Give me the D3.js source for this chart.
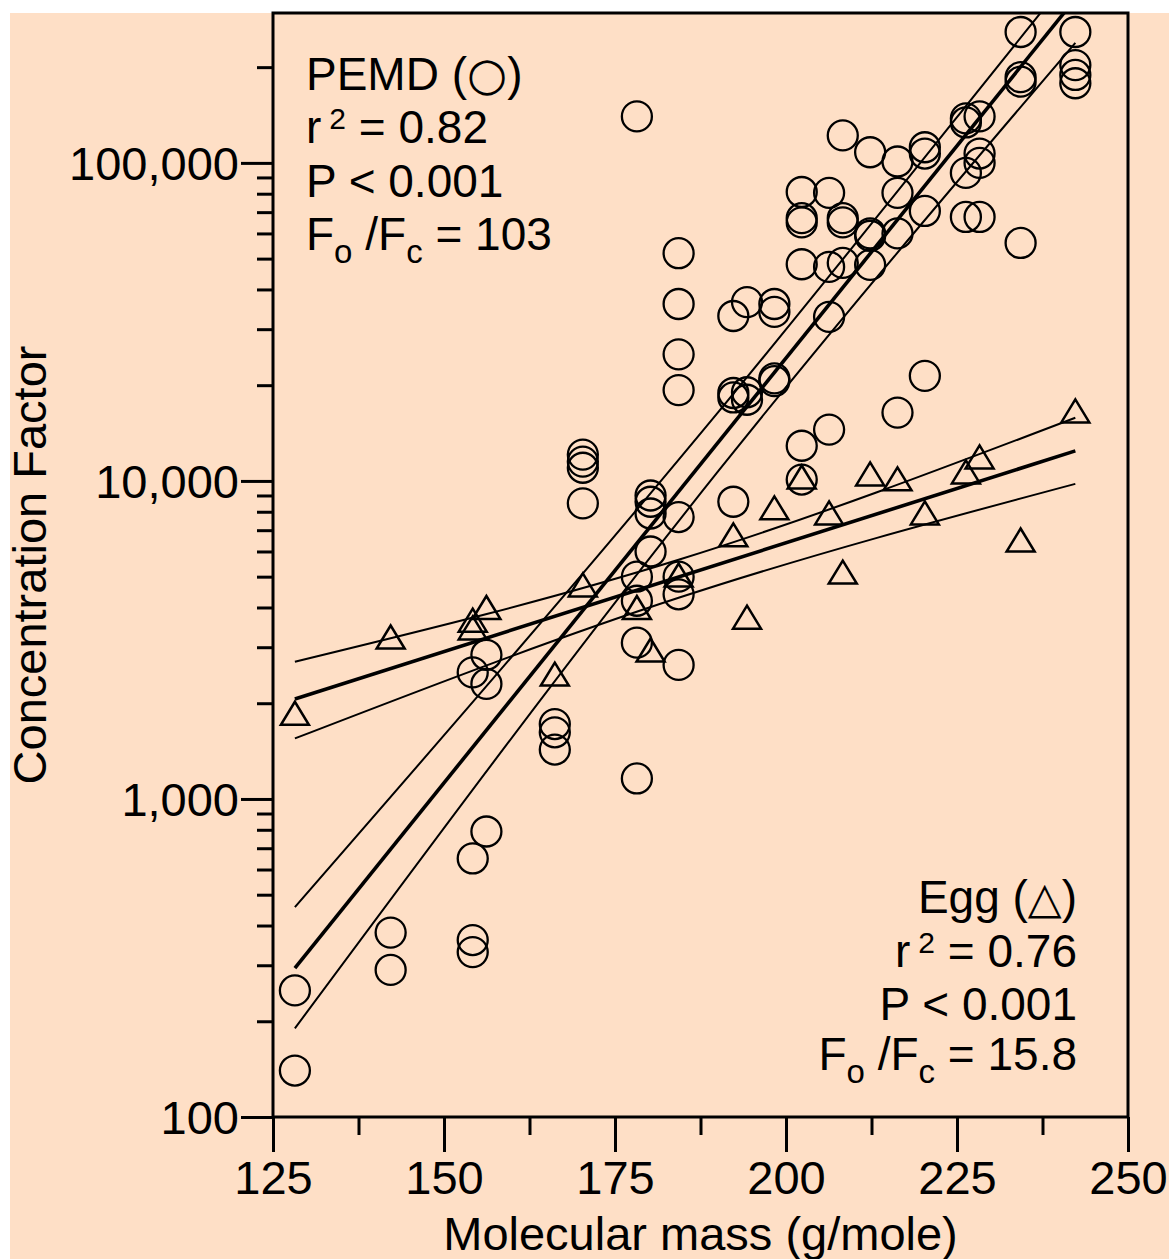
<!DOCTYPE html>
<html><head><meta charset="utf-8">
<script src="https://cdn.jsdelivr.net/npm/d3@7"></script>
<style>body{margin:0;background:#fff}</style>
</head><body>
<svg id="chart" width="1169" height="1259"></svg>
<script>
// ---------- data ----------
const pemdMass = [128.2,128.2, 142.2,142.2, 154.2,154.2,154.2,154.2, 156.2,156.2,156.2,
  166.2,166.2,166.2, 170.3,170.3,170.3,170.3, 178.2,178.2,178.2,178.2,178.2,
  180.2,180.2,180.2,180.2, 184.3,184.3,184.3,184.3,184.3,184.3,184.3,184.3,
  192.3,192.3,192.3,192.3, 194.3,194.3,194.3, 198.3,198.3,198.3,198.3,
  202.3,202.3,202.3,202.3,202.3,202.3, 206.3,206.3,206.3,206.3,
  208.3,208.3,208.3,208.3, 212.3,212.3,212.3,212.3, 216.3,216.3,216.3,216.3,
  220.3,220.3,220.3,220.3, 226.3,226.3,226.3,226.3, 228.3,228.3,228.3,228.3,
  234.3,234.3,234.3,234.3, 242.3,242.3,242.3,242.3];
const pemdCF = [250,140, 380,290, 2500,650,360,330, 2840,2300,790,
  1720,1620,1430, 12100,11500,11000,8500, 140000,5000,4200,3100,1160,
  9000,8600,7900,6000, 52000,36000,25000,19300,7700,5000,4400,2640,
  33000,18900,18300,8600, 36500,19000,18000, 36000,34000,21000,20600,
  81000,67000,65000,48000,12900,10100, 80500,47100,32800,14500,
  122000,67000,65000,48500, 108000,60000,59000,47800, 101000,80500,60000,16400,
  112000,107000,70600,21400, 138000,134000,93000,67600, 140000,107000,100000,67600,
  258000,186000,180000,56000, 258000,203000,189000,178000];

const eggMass = [128.2,142.2,154.2,154.2,156.2,166.2,170.3,178.2,180.2,184.3,192.3,194.3,
  198.3,202.3,206.3,208.3,212.3,216.3,220.3,226.3,228.3,234.3,242.3];
const eggCF = [1860,3230,3650,3450,4000,2470,4710,4000,2940,5060,6770,3730,
  8230,10290,7930,5170,10520,10150,7930,10670,11900,6520,16600];

// regression lines and 95% bands: [mass, concentration factor]
const pemdFit   = [[128.2, 294], [242.3, 328000]];
const pemdUpper = [[128.2, 457], [190, 16360], [237.1, 294000], [242.3, 405000]];
const pemdLower = [[128.2, 190], [190, 10670], [242.3, 238500]];
const eggFit    = [[128.2, 2063], [242.3, 12430]];
const eggUpper  = [[128.2, 2700], [184.3, 5650], [242.3, 15800]];
const eggLower  = [[128.2, 1550], [184.3, 4290], [242.3, 9790]];

const xTicks = [125, 150, 175, 200, 225, 250];
const xMinor = [137.5, 162.5, 187.5, 212.5, 237.5];
const yTicks = [100, 1000, 10000, 100000];
const yTickLabels = ["100", "1,000", "10,000", "100,000"];

// ---------- drawing ----------
const svg = d3.select("#chart");
const L = 273, R = 1128, T = 13, B = 1117;
const FONT = "'Liberation Sans', Arial, Helvetica, sans-serif";

svg.append("rect").attr("x", 0).attr("y", 0).attr("width", 1169).attr("height", 1259).attr("fill", "#ffffff");
svg.append("rect").attr("x", 10).attr("y", 13).attr("width", 1159).attr("height", 1246).attr("fill", "#FEDFC6");

const x = d3.scaleLinear().domain([125, 250]).range([L, R]);
const y = d3.scaleLog().domain([100, 296000]).range([B, T]);

svg.append("defs").append("clipPath").attr("id", "clip")
  .append("rect").attr("x", L).attr("y", T).attr("width", R - L).attr("height", B - T);

// y minor ticks
const yMinor = [];
for (let e = 2; e <= 5; e++) for (let m = 2; m <= 9; m++) { const v = m * Math.pow(10, e); if (v <= 296000) yMinor.push(v); }

const yAxisMinor = d3.axisLeft(y).tickValues(yMinor).tickSize(16).tickFormat("");
const yAxisMajor = d3.axisLeft(y).tickValues(yTicks).tickSize(32).tickPadding(2)
  .tickFormat((d, i) => yTickLabels[i]);
const xAxisMinor = d3.axisBottom(x).tickValues(xMinor).tickSize(18).tickFormat("");
const xAxisMajor = d3.axisBottom(x).tickValues(xTicks).tickSize(35).tickPadding(9);

function styleAxis(g) {
  g.select(".domain").remove();
  g.selectAll(".tick line").attr("stroke", "#000").attr("stroke-width", 3);
  g.selectAll(".tick text").attr("fill", "#000").style("font-family", FONT).style("font-size", "47px");
}
svg.append("g").attr("transform", `translate(${L},0)`).call(yAxisMinor).call(styleAxis);
svg.append("g").attr("transform", `translate(${L},0)`).call(yAxisMajor).call(styleAxis)
  .selectAll(".tick text").attr("dy", "0.36em");
svg.append("g").attr("transform", `translate(0,${B})`).call(xAxisMinor).call(styleAxis);
svg.append("g").attr("transform", `translate(0,${B})`).call(xAxisMajor).call(styleAxis);

// frame
svg.append("rect").attr("x", L).attr("y", T).attr("width", R - L).attr("height", B - T)
  .attr("fill", "none").attr("stroke", "#000").attr("stroke-width", 3);

// lines
const line = d3.line().x(d => x(d[0])).y(d => y(d[1])).curve(d3.curveMonotoneX);
const lg = svg.append("g").attr("clip-path", "url(#clip)");
[[pemdUpper, 2], [pemdLower, 2], [pemdFit, 3.6], [eggUpper, 2], [eggLower, 2], [eggFit, 3.6]].forEach(([d, w]) => {
  lg.append("path").datum(d).attr("d", line).attr("fill", "none").attr("stroke", "#000").attr("stroke-width", w);
});

// markers
const mg = svg.append("g").attr("clip-path", "url(#clip)");
mg.selectAll("circle.pemd").data(pemdMass.map((m, i) => [m, pemdCF[i]])).join("circle")
  .attr("class", "pemd").attr("cx", d => x(d[0])).attr("cy", d => y(d[1])).attr("r", 15)
  .attr("fill", "none").attr("stroke", "#000").attr("stroke-width", 2.3);
const tw = 28, th = 23;
mg.selectAll("path.egg").data(eggMass.map((m, i) => [m, eggCF[i]])).join("path")
  .attr("class", "egg")
  .attr("d", d => { const cx = x(d[0]), cy = y(d[1]);
    return `M${cx},${cy - th / 2}L${cx + tw / 2},${cy + th / 2}L${cx - tw / 2},${cy + th / 2}Z`; })
  .attr("fill", "none").attr("stroke", "#000").attr("stroke-width", 2.5).attr("stroke-linejoin", "miter");

// axis titles
svg.append("text").attr("x", (L + R) / 2).attr("y", 1250).attr("text-anchor", "middle")
  .style("font-family", FONT).style("font-size", "47px").text("Molecular mass (g/mole)");
svg.append("text").attr("transform", `translate(46,${(T + B) / 2}) rotate(-90)`).attr("text-anchor", "middle")
  .style("font-family", FONT).style("font-size", "47px").text("Concentration Factor");

// annotations
function statBlock(xPos, baselines, anchor, title, glyph, glyphSize, r2, p, f) {
  const g = svg.append("g").style("font-family", FONT).style("font-size", "46px").attr("text-anchor", anchor);
  const t1 = g.append("text").attr("x", xPos).attr("y", baselines[0]);
  t1.append("tspan").text(title + " (");
  t1.append("tspan").style("font-family", "'DejaVu Sans', sans-serif")
    .style("font-size", glyphSize + "px").text(glyph);
  t1.append("tspan").text(")");
  const t2 = g.append("text").attr("x", xPos).attr("y", baselines[1]);
  t2.append("tspan").text("r");
  t2.append("tspan").attr("dx", 8).attr("dy", -14).style("font-size", "30px").text("2");
  t2.append("tspan").attr("dy", 14).text(" = " + r2);
  g.append("text").attr("x", xPos).attr("y", baselines[2]).text("P < " + p);
  const t4 = g.append("text").attr("x", xPos).attr("y", baselines[3]);
  t4.append("tspan").text("F");
  t4.append("tspan").attr("dy", 13).style("font-size", "33px").text("o");
  t4.append("tspan").attr("dy", -13).text(" /F");
  t4.append("tspan").attr("dy", 13).style("font-size", "33px").text("c");
  t4.append("tspan").attr("dy", -13).text(" = " + f);
}
statBlock(306, [90, 143, 197, 250], "start", "PEMD", "\u25CB", 46, "0.82", "0.001", "103");
statBlock(1077, [913, 967, 1020, 1070], "end", "Egg", "\u25B3", 44, "0.76", "0.001", "15.8");
</script>
</body></html>
